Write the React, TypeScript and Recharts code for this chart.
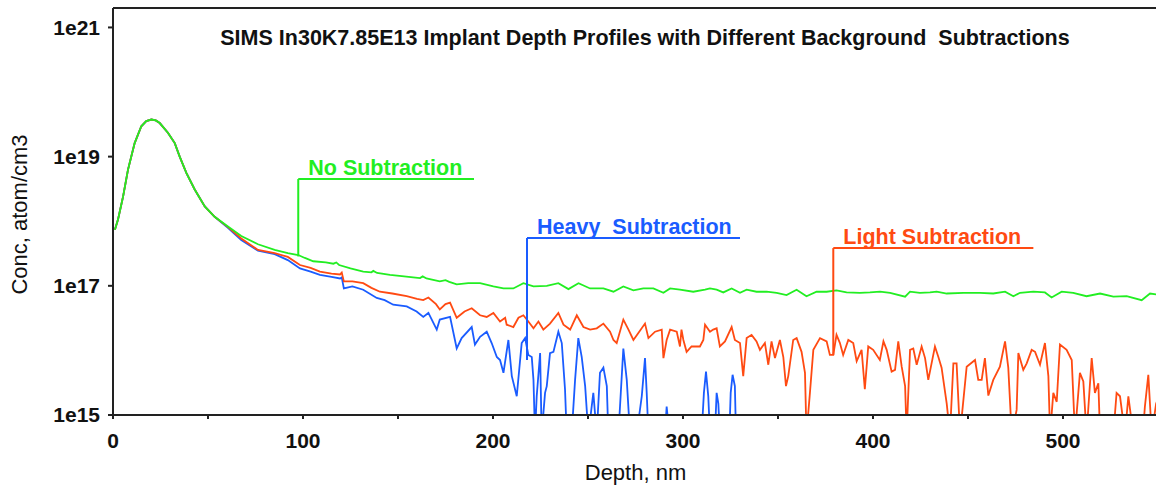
import { Line, LineChart, ReferenceLine, XAxis, YAxis } from 'recharts'

// shared implant peak (all three profiles overlap here)
const surfaceDepth = [1, 2.6, 5.3, 7.9, 11.4, 14.9, 17.5, 20.2, 22.5, 24.6, 28.9, 32.5, 35.1, 38.6, 43, 48.3, 53.5]
const surfaceConc = [7.4e17, 1.05e18, 2.4e18, 6.3e18, 1.62e19, 2.95e19, 3.55e19, 3.75e19, 3.63e19, 3.31e19, 2.34e19, 1.62e19, 1.0e19, 5.6e18, 3.1e18, 1.7e18, 1.17e18]

const noSubDepth = [
  60.5, 67.5, 76.3, 85.1, 92, 97.5, 101, 105.4, 112, 116, 117.5, 119, 125, 131.7, 136, 137, 139, 145.8, 152, 158,
  161.6, 163, 165, 172, 175, 177, 180.9, 187, 193.2, 200.2, 205.5, 210.7, 216, 221.3, 228.3, 234.4, 239.7, 245, 251.1, 258.1,
  263.4, 268.6, 273.9, 279.1, 284.4, 289.7, 293.2, 298.4, 305.4, 311.6, 314.2, 317.7, 321.2, 325.6, 330, 333.5, 338.7, 344, 349.3, 354.5,
  359.8, 365, 370.3, 375.6, 380.8, 386.1, 393.1, 398.4, 403.7, 409, 416.9, 419.5, 424.7, 430, 433.5, 438.8, 447.6, 456.3, 463.3, 469.5,
  473.9, 477.4, 484.4, 490.5, 494, 499.3, 505.4, 512.4, 519.5, 526.5, 533.5, 541.4, 545.8, 552,
]
const noSubConc = [
  8.3e17, 5.9e17, 4.4e17, 3.6e17, 3.2e17, 3.0e17, 2.7e17, 2.4e17, 2.3e17, 2.2e17, 2.3e17, 2.1e17, 1.86e17, 1.66e17, 1.62e17, 1.7e17, 1.58e17, 1.48e17, 1.41e17, 1.35e17,
  1.32e17, 1.4e17, 1.3e17, 1.17e17, 1.22e17, 1.15e17, 1.05e17, 1.1e17, 1.1e17, 9.8e16, 9.1e16, 9.1e16, 1.1e17, 9.8e16, 1.0e17, 1.1e17, 8.9e16, 1.1e17, 9.1e16, 9.1e16,
  8.1e16, 9.8e16, 8.5e16, 9.1e16, 9.1e16, 7.8e16, 9.1e16, 8.7e16, 8.1e16, 8.7e16, 9.1e16, 8.7e16, 7.9e16, 9.1e16, 7.8e16, 8.7e16, 8.1e16, 8.1e16, 7.8e16, 7.2e16,
  8.7e16, 6.9e16, 8.1e16, 8.1e16, 8.5e16, 7.9e16, 7.8e16, 7.9e16, 8.1e16, 7.8e16, 6.8e16, 8.1e16, 7.8e16, 7.9e16, 8.1e16, 7.6e16, 7.8e16, 7.8e16, 7.6e16, 8.1e16,
  6.9e16, 7.8e16, 8.1e16, 7.9e16, 6.6e16, 8.1e16, 7.8e16, 6.9e16, 7.6e16, 6.8e16, 6.9e16, 6.0e16, 7.6e16, 7.2e16,
]

const lightDepth = [
  60.5, 67.5, 76.3, 85.1, 92, 98.4, 104, 108.9, 115, 119.5, 120.4, 121.5, 126, 131.7, 136, 140.5, 147, 154.6, 160, 163.3,
  166, 170, 172, 175, 177.4, 180.9, 185, 188.8, 193.2, 196.7, 200.2, 203.7, 206.4, 207.2, 210.7, 213.4, 216, 218.6, 221.3, 223.9,
  226.5, 230, 234.4, 237.1, 240.6, 244.1, 247.6, 251.1, 254.6, 258.1, 261.6, 263.4, 265.1, 268.6, 271.3, 273.9, 276.5, 280, 281.8, 285.3,
  288.8, 289.7, 291.4, 293.2, 296.7, 298.4, 299.2, 300.2, 301.9, 304.5, 308.9, 310.7, 311.6, 314.2, 315.9, 317.7, 319.4, 322.1, 325.6, 327.3,
  330, 331.7, 333.5, 336.1, 338.7, 340.5, 343.1, 344.9, 346.6, 348.4, 351, 352.8, 354.2, 355.4, 358, 359.8, 362.4, 364.2, 365, 366.8,
  368.6, 372.1, 375.6, 377.3, 379.1, 380.8, 382.6, 384.3, 387, 389.6, 391.4, 394, 395.7, 397.5, 400.1, 403.6, 405.5, 407.2, 409.8, 411.6,
  413.3, 415.1, 416.9, 417.7, 419.5, 421.2, 423, 425.6, 427.4, 429.1, 432.6, 434.4, 436.1, 438.8, 440.5, 442.3, 444, 445.8, 449.3, 453.7,
  455.4, 457.2, 458.9, 460.7, 463.3, 466.8, 469.5, 471.2, 473, 475.6, 476.5, 479.1, 480.9, 483.5, 485.3, 487.9, 490.5, 492.3, 493.2, 494.9,
  496.7, 498.4, 501.9, 504.6, 506.3, 508.9, 510.7, 512.4, 515.1, 516.8, 518.6, 519.5, 526.5, 528.2, 530, 532.6, 534.4, 537, 542, 543.1,
  544.9, 546.7, 549, 552,
]
const lightConc = [
  8.1e17, 5.4e17, 3.6e17, 3.2e17, 2.8e17, 2.1e17, 1.9e17, 1.66e17, 1.55e17, 1.5e17, 1.6e17, 1.17e17, 1.17e17, 1.1e17, 9.3e16, 8.1e16, 7.6e16, 6.9e16, 6.3e16, 6.0e16,
  6.6e16, 5.2e16, 4.3e16, 5.2e16, 5.5e16, 3.2e16, 4.0e16, 4.5e16, 3.5e16, 3.3e16, 3.8e16, 2.8e16, 3.2e16, 2.5e16, 2.3e16, 3.2e16, 3.5e16, 2.8e16, 2.2e16, 2.8e16,
  2.1e16, 2.6e16, 3.8e16, 2.5e16, 2.1e16, 3.5e16, 2.3e16, 2.1e16, 2.2e16, 2.6e16, 1.95e16, 1.45e16, 1.3e16, 3.0e16, 2.1e16, 1.45e16, 1.86e16, 2.6e16, 1.55e16, 1.95e16,
  2.1e16, 7.6e15, 1.45e16, 2.1e16, 1.95e16, 1.15e16, 2.1e16, 1.45e16, 9.5e15, 1.15e16, 1.15e16, 1.45e16, 2.5e16, 1.95e16, 2.1e16, 2.2e16, 1.15e16, 1.38e16, 2.3e16, 1.45e16,
  1.3e16, 4.0e15, 1.55e16, 1.74e16, 1.38e16, 1.02e16, 1.3e16, 6.0e15, 1.38e16, 7.6e15, 1.45e16, 7.9e15, 2.8e15, 4.0e15, 1.45e16, 1.55e16, 9.5e15, 4.5e15, 5e14, 2.2e15,
  1.02e16, 1.55e16, 1.38e16, 8.5e15, 8.5e15, 1.74e16, 1.3e16, 8.5e15, 1.45e16, 1.3e16, 6.8e15, 1.02e16, 2.5e15, 1.15e16, 1.02e16, 7.1e15, 1.38e16, 1.02e16, 4.7e15, 5.0e15,
  1.38e16, 5.6e15, 2.8e15, 5e14, 1.02e16, 1.07e16, 6.0e15, 1.15e16, 7.6e15, 3.5e15, 1.15e16, 7.9e15, 5.4e15, 1.5e15, 5e14, 6.3e15, 6.3e15, 5e14, 5.6e15, 7.1e15,
  3.5e15, 3.5e15, 7.6e15, 2.0e15, 3.5e15, 5.6e15, 1.38e16, 5.4e15, 5e14, 1.2e15, 9.1e15, 5.0e15, 6.3e15, 1.02e16, 9.5e15, 6.0e15, 1.3e16, 4.0e15, 5e14, 2.2e15,
  1.6e15, 1.23e16, 1.02e16, 7.1e15, 5e14, 4.5e15, 3.3e15, 5e14, 7.6e15, 2.2e15, 3.1e15, 5e14, 5e14, 2.2e15, 1.95e15, 5e14, 1.95e15, 5e14, 5e14, 1.35e15,
  4.2e15, 5e14, 1.5e15, 2.5e15,
]

const heavyDepth = [
  60.5, 67.5, 76.3, 85.1, 92, 98.4, 104, 108.9, 115, 119.5, 120.4, 121.5, 126, 131.7, 138.8, 143, 147.5, 154.6, 159.8, 163.3,
  166, 170.4, 172, 177.4, 180.9, 183.5, 188.8, 190.5, 193.2, 196.7, 199.3, 202, 203.7, 205.5, 208.1, 209.9, 212.5, 215.1, 216.9, 218.6,
  220.4, 221.3, 222.1, 223, 224.8, 225.6, 227.4, 228.3, 230, 231.8, 234.4, 236.2, 237.9, 238.8, 241.4, 243.2, 244.9, 246.7, 248.5, 250.2,
  252.8, 254.6, 256.3, 258.1, 259.9, 260.7, 266, 268.6, 270.4, 272.1, 275.6, 278.3, 280, 280.9, 281.8, 290.5, 291.4, 292.8, 309.8, 311,
  312.1, 313.3, 314.2, 316.8, 317.7, 318.6, 319.4, 324.4, 325.1, 326.1, 327.3, 327.9, 330,
]
const heavyConc = [
  7.9e17, 5.1e17, 3.5e17, 3.1e17, 2.5e17, 1.86e17, 1.66e17, 1.48e17, 1.38e17, 1.3e17, 1.35e17, 9.1e16, 9.8e16, 8.7e16, 6.5e16, 6.0e16, 5.1e16, 4.8e16, 4.0e16, 3.3e16,
  3.8e16, 2.1e16, 3.0e16, 3.3e16, 1.07e16, 1.55e16, 2.3e16, 1.23e16, 1.62e16, 1.95e16, 1.3e16, 7.9e15, 7.1e15, 4.5e15, 1.45e16, 4.0e15, 1.95e15, 1.3e16, 1.55e16, 8.5e15,
  7.9e15, 3.5e15, 5e14, 1.95e15, 9.1e15, 5e14, 2.2e15, 2.8e15, 9.1e15, 9.5e15, 1.95e16, 1.3e16, 2.5e15, 5e14, 5e14, 3.5e15, 1.55e16, 7.9e15, 2.8e15, 5e14,
  2.2e15, 5e14, 4.5e15, 5.4e15, 2.8e15, 5e14, 5e14, 1.07e16, 3.5e15, 5e14, 5e14, 1.95e15, 7.6e15, 2.2e15, 5e14, 5e14, 1.35e15, 5e14, 5e14, 2.2e15,
  4.7e15, 1.95e15, 5e14, 5e14, 2.2e15, 1.5e15, 5e14, 5e14, 2.2e15, 4.2e15, 2.8e15, 5e14, 5e14,
]

const xTicks = [0, 50, 100, 150, 200, 250, 300, 350, 400, 450, 500, 550]
const yTicks = [1e15, 1e17, 1e19, 1e21]

const FONT = '"Liberation Sans", Arial, sans-serif'
const GREEN = '#22ee22'
const BLUE = '#1a5cff'
const ORANGE = '#ff4a12'
const AXIS = '#222'

function toPoints(depth: number[], conc: number[]) {
  return depth.map((d, i) => ({ d, c: conc[i] }))
}

const noSubData = toPoints([...surfaceDepth, ...noSubDepth], [...surfaceConc, ...noSubConc])
const lightData = toPoints([...surfaceDepth, ...lightDepth], [...surfaceConc, ...lightConc])
const heavyData = toPoints([...surfaceDepth, ...heavyDepth], [...surfaceConc, ...heavyConc])

// callouts: [label, colour, depth, low end, high end, right end]
const callouts: [string, string, number, number, number, number][] = [
  ['No Subtraction', GREEN, 97.5, 2.85e17, 4.5e18, 190],
  ['Heavy  Subtraction', BLUE, 217.9, 7.1e15, 5.5e17, 330],
  ['Light Subtraction', ORANGE, 379.1, 8.5e15, 3.84e17, 484.4],
]

function calloutLabel(text: string, color: string) {
  return (props: any) => {
    const vb = props.viewBox || {}
    return (
      <text x={vb.x + 10} y={vb.y - 4} fill={color} fontSize={21.5} fontWeight={700} fontFamily={FONT} style={{ whiteSpace: 'pre' }}>
        {text}
      </text>
    )
  }
}

function TitleLabel(props: any) {
  const vb = props.viewBox || {}
  return (
    <text x={vb.x + 532} y={vb.y + 37} textAnchor="middle" fill="#111" fontSize={21.5} fontWeight={700} fontFamily={FONT} style={{ whiteSpace: 'pre' }}>
      SIMS In30K7.85E13 Implant Depth Profiles with Different Background  Subtractions
    </text>
  )
}

function YTitle(props: any) {
  const vb = props.viewBox || {}
  const cy = vb.y + vb.height / 2 + 3
  return (
    <text x={27} y={cy} transform={`rotate(-90 27 ${cy})`} textAnchor="middle" fill="#111" fontSize={22} fontFamily={FONT}>
      Conc, atom/cm3
    </text>
  )
}

function XTitle(props: any) {
  const vb = props.viewBox || {}
  return (
    <text x={vb.x + vb.width / 2} y={vb.y + 65} textAnchor="middle" fill="#111" fontSize={22} fontFamily={FONT}>
      Depth, nm
    </text>
  )
}

export default function App() {
  return (
    <div style={{ position: 'absolute', left: 0, top: 0, width: 1156, height: 487, overflow: 'hidden', background: '#fff' }}>
      <LineChart width={1160} height={487} margin={{ top: 8, right: 2, bottom: 0, left: 0 }}>
        <XAxis
          dataKey="d"
          type="number"
          domain={[0, 550]}
          allowDataOverflow
          ticks={xTicks}
          interval={0}
          tickFormatter={(v: number) => (v % 100 === 0 ? String(v) : '')}
          height={72}
          tickSize={4}
          tickMargin={14}
          axisLine={{ stroke: AXIS, strokeWidth: 2 }}
          tickLine={{ stroke: AXIS, strokeWidth: 2 }}
          tick={{ fontSize: 21, fontWeight: 700, fill: '#111', fontFamily: FONT }}
          label={{ content: XTitle }}
        />
        <YAxis
          type="number"
          scale="log"
          domain={[1e15, 2e21]}
          allowDataOverflow
          ticks={yTicks}
          interval={0}
          tickFormatter={(v: number) => '1e' + Math.round(Math.log10(v))}
          width={113}
          tickSize={5}
          tickMargin={8}
          axisLine={{ stroke: AXIS, strokeWidth: 2 }}
          tickLine={{ stroke: AXIS, strokeWidth: 2 }}
          tick={{ fontSize: 21, fontWeight: 700, fill: '#111', fontFamily: FONT }}
          label={{ content: YTitle }}
        />
        <ReferenceLine y={2e21} stroke={AXIS} strokeWidth={2} label={{ content: TitleLabel }} />
        <Line data={heavyData} dataKey="c" stroke={BLUE} strokeWidth={1.8} dot={false} isAnimationActive={false} />
        <Line data={lightData} dataKey="c" stroke={ORANGE} strokeWidth={1.8} dot={false} isAnimationActive={false} />
        <Line data={noSubData} dataKey="c" stroke={GREEN} strokeWidth={1.8} dot={false} isAnimationActive={false} />
        {callouts.map(([name, color, x, lo, hi, end]) => [
          <ReferenceLine
            key={name + 'v'}
            segment={[{ x, y: lo }, { x, y: hi }]}
            stroke={color}
            strokeWidth={2}
            ifOverflow="visible"
          />,
          <ReferenceLine
            key={name + 'h'}
            segment={[{ x, y: hi }, { x: end, y: hi }]}
            stroke={color}
            strokeWidth={2}
            ifOverflow="visible"
            label={{ content: calloutLabel(name, color) }}
          />,
        ])}
      </LineChart>
    </div>
  )
}
